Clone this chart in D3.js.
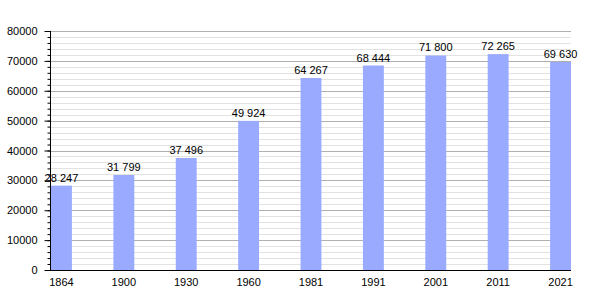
<!DOCTYPE html>
<html>
<head>
<meta charset="utf-8">
<script src="https://cdn.jsdelivr.net/npm/d3@7"></script>
<style>
body { margin: 0; background: #fff; }
svg text { font-family: "Liberation Sans", Arial, sans-serif; font-size: 11px; fill: #000; }
</style>
</head>
<body>
<svg id="chart"></svg>
<script>
var years = ["1864", "1900", "1930", "1960", "1981", "1991", "2001", "2011", "2021"]
var population = [28247, 31799, 37496, 49924, 64267, 68444, 71800, 72265, 69630]
var yTicks = [0, 10000, 20000, 30000, 40000, 50000, 60000, 70000, 80000]

var dimensions = {
    width: 600,
    height: 300,
    margin: { top: 31, bottom: 30, right: 29, left: 50 }
}

var svg = d3.select("#chart")
            .attr("width", dimensions.width)
            .attr("height", dimensions.height)

var xScale = d3.scaleBand()
               .domain(years)
               .range([dimensions.margin.left + 1, dimensions.width - dimensions.margin.right])
               .paddingInner(0.665)
               .paddingOuter(0)

var yScale = d3.scaleLinear()
               .domain([0, 80000])
               .range([dimensions.height - dimensions.margin.bottom, dimensions.margin.top])

var x0 = dimensions.margin.left
var x1 = dimensions.width - dimensions.margin.right

// minor grid
svg.append("g")
   .selectAll("line")
   .data(d3.range(0, 80001, 2000).filter(d => d % 10000 !== 0))
   .enter()
   .append("line")
   .attr("x1", x0).attr("x2", x1)
   .attr("y1", d => Math.round(yScale(d)) + 0.5)
   .attr("y2", d => Math.round(yScale(d)) + 0.5)
   .attr("stroke", "#e2e2e2")

// major grid
svg.append("g")
   .selectAll("line")
   .data(yTicks.filter(d => d > 0))
   .enter()
   .append("line")
   .attr("x1", x0).attr("x2", x1)
   .attr("y1", d => Math.round(yScale(d)) + 0.5)
   .attr("y2", d => Math.round(yScale(d)) + 0.5)
   .attr("stroke", "#b0b0b0")

svg.append("g")
   .selectAll("rect")
   .data(population)
   .enter()
   .append("rect")
   .attr("x", (d, i) => xScale(years[i]))
   .attr("y", d => yScale(d))
   .attr("width", xScale.bandwidth())
   .attr("height", d => yScale(0) - yScale(d))
   .attr("fill", "#99aaff")

svg.append("g")
   .selectAll("text")
   .data(population)
   .enter()
   .append("text")
   .attr("x", (d, i) => xScale(years[i]) + xScale.bandwidth() / 2)
   .attr("y", d => yScale(d) - 4)
   .attr("text-anchor", "middle")
   .text(d => d3.format(",")(d).replace(",", " "))

// y axis minor ticks
svg.append("g")
   .attr("transform", `translate(${x0 + 0.5},0)`)
   .call(d3.axisLeft(yScale).tickValues(d3.range(0, 80001, 2000)).tickSize(3).tickFormat(""))
   .call(g => g.select(".domain").remove())

var yAxis = svg.append("g")
   .attr("transform", `translate(${x0 + 0.5},0)`)
   .call(d3.axisLeft(yScale).tickValues(yTicks).tickSize(6).tickPadding(7).tickFormat(d3.format("d")))
yAxis.select(".domain").attr("d", `M0,${yScale(80000)}V${yScale(0)}`)
yAxis.selectAll("text").style("font-size", "11px")

var xAxis = svg.append("g")
   .attr("transform", `translate(0,${yScale(0) + 0.5})`)
   .call(d3.axisBottom(xScale).tickSize(0).tickPadding(8))
xAxis.select(".domain").attr("d", `M${x0},0H${x1}`)
</script>
</body>
</html>
